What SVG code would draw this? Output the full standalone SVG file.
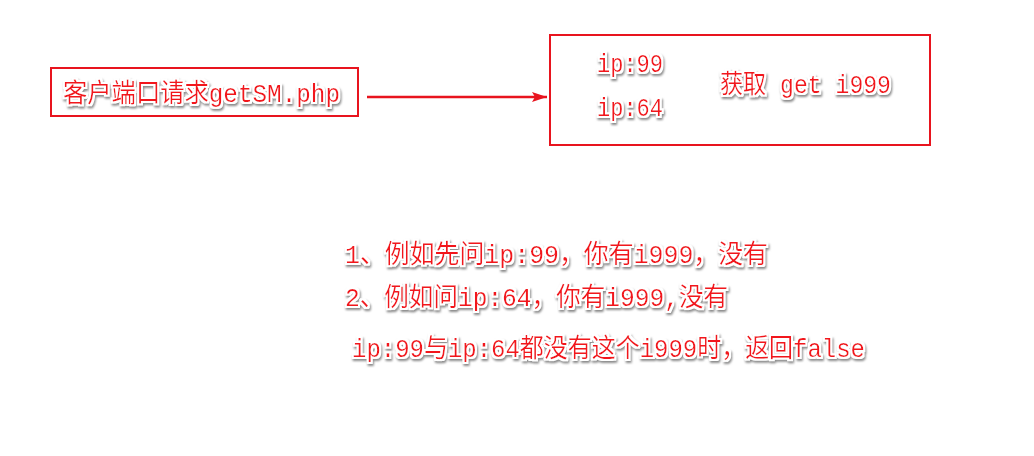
<svg xmlns="http://www.w3.org/2000/svg" width="1034" height="456" viewBox="0 0 1034 456">
<defs>
<style>
.box{fill:none;stroke:#e8141e;stroke-width:2}
.t{font-family:"Liberation Mono","Noto Sans CJK SC",monospace;font-size:26px;fill:#f2131c;filter:url(#halo)}
.conn{stroke:#e8141e;stroke-width:2.5;fill:none}
</style>
<filter id="halo" x="-5%" y="-30%" width="110%" height="160%">
<feMorphology in="SourceAlpha" operator="dilate" radius="1.6" result="d"/>
<feOffset in="d" dx="1.2" dy="1.6" result="o"/>
<feGaussianBlur in="o" stdDeviation="0.9" result="b"/>
<feFlood flood-color="#8a8a8a" result="g"/>
<feComposite in="g" in2="b" operator="in" result="sh"/>
<feFlood flood-color="#ffffff" result="w"/>
<feComposite in="w" in2="d" operator="in" result="hl"/>
<feMerge><feMergeNode in="sh"/><feMergeNode in="hl"/><feMergeNode in="SourceGraphic"/></feMerge>
</filter>
<marker id="ah" viewBox="0 0 15 10" refX="15" refY="5" markerWidth="15" markerHeight="10" markerUnits="userSpaceOnUse" orient="auto">
<path d="M0,0 L15,5 L0,10 L3,5 Z" fill="#e8141e"/>
</marker>
</defs>
<g id="client">
<rect class="box" x="51" y="68" width="307" height="48"/>
<text class="t" x="63" y="102" textLength="277" lengthAdjust="spacingAndGlyphs">客户端口请求getSM.php</text>
</g>
<g id="servers">
<rect class="box" x="550" y="35" width="380" height="110"/>
<text class="t" x="597" y="72" textLength="66" lengthAdjust="spacingAndGlyphs">ip:99</text>
<text class="t" x="597" y="116" textLength="66" lengthAdjust="spacingAndGlyphs">ip:64</text>
<text class="t" x="720" y="93" textLength="171" lengthAdjust="spacingAndGlyphs">获取 get i999</text>
</g>
<g id="connectors">
<line class="conn" x1="367" y1="97" x2="547" y2="97" marker-end="url(#ah)"/>
</g>
<g id="notes">
<text class="t" x="345" y="263" textLength="423" lengthAdjust="spacingAndGlyphs">1、例如先问ip:99，你有i999，没有</text>
<text class="t" x="345" y="306" textLength="383" lengthAdjust="spacingAndGlyphs">2、例如问ip:64，你有i999,没有</text>
<text class="t" x="352" y="357" textLength="513" lengthAdjust="spacingAndGlyphs">ip:99与ip:64都没有这个i999时，返回false</text>
</g>
</svg>
